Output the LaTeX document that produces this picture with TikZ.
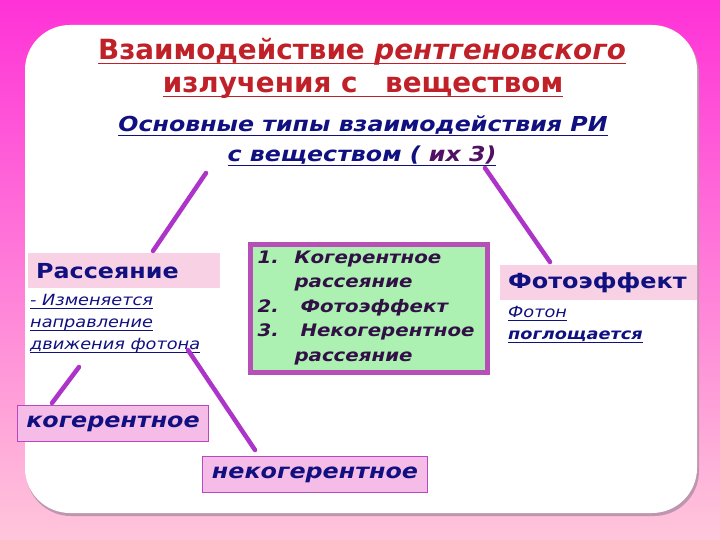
\documentclass[tikz,border=0pt]{standalone}
\usepackage{fontspec}
\setmainfont{DejaVu Sans}[FakeStretch=1.15,ItalicFont={DejaVu Sans Oblique},BoldFont={DejaVu Sans Bold},BoldItalicFont={DejaVu Sans Bold Oblique}]
\newfontfamily\titlefont{DejaVu Sans}[ItalicFont={DejaVu Sans Oblique},BoldFont={DejaVu Sans Bold},BoldItalicFont={DejaVu Sans Bold Oblique}]
\def\ulthick{1pt}
\def\uldepth{3pt}
\newcommand\myul[1]{\setbox0\hbox{#1}\leavevmode\rlap{\rule[-\uldepth]{\wd0}{\ulthick}}\box0}
\definecolor{bgtop}{RGB}{255,50,215}
\definecolor{bgmid}{RGB}{255,120,215}
\definecolor{bgbot}{RGB}{255,198,218}
\definecolor{shadowgray}{RGB}{190,150,175}
\definecolor{titlered}{RGB}{192,32,40}
\definecolor{navy}{RGB}{16,16,128}
\definecolor{plum}{RGB}{50,16,70}
\definecolor{darkplum}{RGB}{80,16,100}
\definecolor{linepurple}{RGB}{172,52,200}
\definecolor{boxpink}{RGB}{248,210,228}
\definecolor{lightgreen}{RGB}{172,240,178}
\definecolor{greenborder}{RGB}{182,80,182}
\definecolor{labelpink}{RGB}{246,188,232}
\definecolor{labelborder}{RGB}{182,72,192}
\tikzset{
  titletext/.style={anchor=base, inner sep=0pt, text=titlered, font=\titlefont\fontsize{27.8}{32}\selectfont\bfseries\def\ulthick{1.8pt}\def\uldepth{4.5pt}},
  subtext/.style={anchor=base, inner sep=0pt, text=navy, font=\fontsize{20.6}{24}\selectfont\bfseries\itshape\def\ulthick{1.2pt}\def\uldepth{4pt}},
  connector/.style={draw=linepurple, line width=4.5pt, line cap=round},
  headbox/.style={fill=boxpink, anchor=north west, text=navy, font=\fontsize{20.7}{24}\selectfont\bfseries, inner xsep=8pt, inner ysep=0pt, align=left},
  desctext/.style={anchor=north west, inner sep=0pt, text=navy, align=left, font=\fontsize{15.4}{22}\selectfont\itshape\def\ulthick{0.9pt}\def\uldepth{3pt}},
  listbox/.style={draw=greenborder, line width=5pt, fill=lightgreen, anchor=north west, inner xsep=7.5pt, inner ysep=0pt, text=plum, align=left, font=\fontsize{17.2}{24.5}\selectfont\bfseries\itshape},
  labelbox/.style={draw=labelborder, line width=1pt, fill=labelpink, text=navy, font=\fontsize{20.7}{24}\selectfont\bfseries\itshape, inner sep=0pt, anchor=north west, align=center}
}
\begin{document}
\begin{tikzpicture}[x=1pt,y=-1pt]
\useasboundingbox (0,0) rectangle (720,540);
% background
\shade[top color=bgtop, middle color=bgmid, bottom color=bgbot] (0,0) rectangle (720,540);
\fill[shadowgray, rounded corners=45pt] (26,28) rectangle (699,516);
\fill[white, rounded corners=45pt] (25,25) rectangle (697,513);
% titles
\node[titletext] (title1) at (362,60) {\myul{Взаимодействие \textit{рентгеновского}}};
\node[titletext] (title2) at (363,93) {\myul{излучения с\hspace{18pt} веществом}};
\node[subtext] (sub1) at (363,132) {\myul{Основные типы взаимодействия РИ}};
\node[subtext] (sub2) at (362,162) {\myul{с веществом ( \textcolor{darkplum}{их 3)}}};
% main boxes
\node[headbox, minimum width=192pt, minimum height=35pt, text width=176pt] (rass) at (28,253) {Рассеяние};
\node[headbox, font=\fontsize{20.8}{24}\selectfont\bfseries, minimum width=197pt, minimum height=35pt, text width=181pt] (foto) at (500,265) {Фотоэффект};
\node[listbox, minimum width=237pt, minimum height=128pt, text width=222pt] (list) at (247.5,241.5)
  {\makebox[37pt][l]{1.}Когерентное\\
   \makebox[37pt][l]{}рассеяние\\
   \makebox[43pt][l]{2.}Фотоэффект\\
   \makebox[43pt][l]{3.}Некогерентное\\
   \makebox[37pt][l]{}рассеяние};
% descriptions
\node[desctext] (descL) at (30,294) {\myul{- Изменяется}\\\myul{направление}\\\myul{движения фотона}};
\node[desctext] (descR) at (508,306) {\myul{Фотон}\\\myul{\bfseries поглощается}};
% sub-labels
\node[labelbox, minimum width=191pt, minimum height=36pt] (coh) at (17,405) {когерентное};
\node[labelbox, minimum width=225pt, minimum height=36pt] (incoh) at (202,456) {некогерентное};
% connectors
\coordinate (s1) at (206,173);
\coordinate (s2) at (485,168);
\coordinate (rassTop) at (153,251);
\coordinate (fotoTop) at (550,262);
\coordinate (dL1) at (79,367);
\coordinate (dL2) at (188,350);
\coordinate (cohTop) at (52,403);
\coordinate (incohTop) at (255,450);
\draw[connector] (s1) -- (rassTop);
\draw[connector] (s2) -- (fotoTop);
\draw[connector] (dL1) -- (cohTop);
\draw[connector] (dL2) -- (incohTop);
\end{tikzpicture}
\end{document}
